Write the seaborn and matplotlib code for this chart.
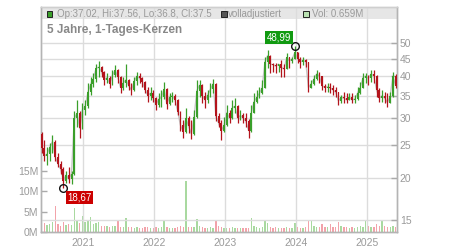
import numpy as np
import pandas as pd
import matplotlib
matplotlib.use("Agg")
import matplotlib.pyplot as plt
import seaborn as sns
from matplotlib.patches import Rectangle
from matplotlib.ticker import FixedLocator, NullLocator, NullFormatter, FuncFormatter

# ---------------- data (~2-week candles) ----------------
opens = [27.0, 24.5, 23.2, 23.5, 24.6, 25.6, 23.0, 22.0, 21.2, 19.6,
         20.4, 19.8, 20.6, 30.0, 31.0, 28.0, 31.8, 32.6, 35.8, 37.8,
         39.2, 42.2, 42.5, 41.2, 39.0, 39.6, 38.0, 40.2, 41.6, 39.8,
         37.0, 38.2, 39.0, 37.4, 36.4, 38.6, 40.0, 39.4, 38.4, 36.5,
         35.0, 35.6, 34.4, 32.9, 34.2, 34.6, 36.6, 33.0, 34.8, 35.0,
         34.0, 31.4, 28.6, 27.4, 30.0, 28.4, 27.0, 30.2, 36.2, 37.6,
         35.0, 34.0, 35.2, 36.6, 38.0, 30.4, 29.0, 27.6, 28.6, 31.2,
         30.0, 32.2, 32.6, 30.0, 30.6, 30.0, 29.4, 27.6, 31.2, 33.6,
         34.6, 35.6, 37.0, 44.0, 46.0, 43.4, 43.2, 42.8, 43.4, 42.4,
         42.0, 45.4, 44.4, 45.0, 47.0, 45.0, 44.0, 44.6, 44.0, 37.0,
         38.0, 39.2, 40.6, 40.0, 37.4, 37.0, 37.2, 36.9, 36.4, 35.8,
         33.8, 34.6, 34.4, 34.0, 34.6, 34.0, 34.2, 35.6, 37.0, 39.6,
         40.0, 39.4, 40.6, 40.0, 36.4, 34.4, 35.0, 34.4, 33.4, 35.0,
         40.0]
highs = [27.3, 25.8, 24.6, 25.3, 26.7, 25.8, 23.7, 22.5, 21.5, 21.0,
         21.5, 21.0, 31.5, 33.9, 31.5, 33.3, 33.9, 38.1, 39.7, 40.8,
         43.5, 44.2, 42.8, 41.5, 40.8, 40.0, 41.6, 43.0, 41.9, 39.9,
         39.7, 43.5, 39.2, 38.1, 39.7, 41.0, 40.8, 39.7, 38.6, 37.1,
         37.1, 36.3, 34.6, 35.6, 36.3, 38.4, 36.8, 35.6, 35.8, 35.3,
         34.2, 31.6, 29.6, 32.1, 30.4, 29.6, 31.7, 38.9, 38.9, 37.8,
         35.8, 36.3, 38.1, 39.1, 38.2, 31.0, 29.6, 30.2, 32.8, 31.7,
         33.9, 34.4, 32.8, 31.7, 31.2, 31.1, 29.8, 32.8, 35.6, 36.3,
         37.1, 38.9, 45.5, 47.8, 46.2, 43.7, 43.6, 43.5, 44.6, 43.5,
         46.8, 45.6, 45.5, 48.99, 47.2, 45.5, 45.5, 45.0, 44.1, 38.9,
         40.3, 41.6, 41.0, 40.1, 37.8, 38.1, 38.1, 37.6, 37.1, 35.9,
         35.1, 35.8, 35.6, 35.6, 35.6, 35.1, 37.1, 38.4, 40.8, 40.8,
         40.3, 41.6, 41.6, 40.2, 36.9, 36.3, 35.8, 35.6, 35.8, 41.0,
         40.5]
lows = [23.7, 22.5, 21.9, 22.5, 23.7, 22.5, 21.5, 20.6, 18.67, 19.3,
        19.3, 19.2, 20.4, 28.2, 26.3, 27.8, 30.6, 32.2, 35.2, 37.1,
        38.5, 39.7, 39.7, 37.6, 38.1, 36.9, 37.6, 39.7, 38.1, 35.6,
        36.3, 37.1, 36.3, 35.1, 36.2, 37.6, 38.1, 37.1, 35.6, 33.5,
        33.9, 33.5, 31.7, 32.4, 32.4, 34.2, 31.9, 32.8, 33.5, 32.8,
        30.6, 27.6, 26.3, 27.2, 27.1, 26.1, 26.8, 30.0, 34.6, 33.3,
        32.1, 33.3, 34.6, 35.6, 29.4, 28.2, 25.8, 27.4, 28.4, 29.0,
        29.8, 31.0, 29.0, 29.6, 29.0, 28.2, 26.3, 27.4, 31.0, 33.4,
        34.4, 35.3, 36.8, 42.4, 40.8, 41.0, 40.8, 41.0, 39.7, 39.7,
        41.9, 42.4, 43.7, 44.8, 43.7, 42.4, 43.0, 42.6, 36.0, 36.9,
        37.6, 38.9, 38.1, 36.3, 35.8, 35.8, 35.6, 35.1, 34.6, 32.8,
        33.3, 33.3, 33.3, 33.9, 33.3, 33.3, 33.9, 35.4, 36.8, 38.1,
        37.6, 38.4, 38.1, 34.6, 33.5, 33.5, 33.3, 32.4, 33.2, 34.8,
        36.8]
closes = [24.5, 23.2, 23.5, 24.6, 25.6, 23.0, 22.0, 21.2, 19.6, 20.4,
          19.8, 20.6, 30.0, 31.0, 28.0, 31.8, 32.6, 35.8, 37.8, 39.2,
          42.2, 42.5, 41.2, 39.0, 39.6, 38.0, 40.2, 41.6, 39.8, 37.0,
          38.2, 39.0, 37.4, 36.4, 38.6, 40.0, 39.4, 38.4, 36.5, 35.0,
          35.6, 34.4, 32.9, 34.2, 34.6, 36.6, 33.0, 34.8, 35.0, 34.0,
          31.4, 28.6, 27.4, 30.0, 28.4, 27.0, 30.2, 36.2, 37.6, 35.0,
          34.0, 35.2, 36.6, 38.0, 30.4, 29.0, 27.6, 28.6, 31.2, 30.0,
          32.2, 32.6, 30.0, 30.6, 30.0, 29.4, 27.6, 31.2, 33.6, 34.6,
          35.6, 37.0, 44.0, 46.0, 43.4, 43.2, 42.8, 43.4, 42.4, 42.0,
          45.4, 44.4, 45.0, 47.0, 45.0, 44.0, 44.6, 44.0, 37.0, 38.0,
          39.2, 40.6, 40.0, 37.4, 37.0, 37.2, 36.9, 36.4, 35.8, 33.8,
          34.6, 34.4, 34.0, 34.6, 34.0, 34.2, 35.6, 37.0, 39.6, 40.0,
          39.4, 40.6, 40.0, 36.4, 34.4, 35.0, 34.4, 33.4, 35.0, 40.0,
          37.5]
volumes_m = [2.8, 2.2, 1.8, 2.0, 2.4, 6.5, 2.0, 1.6, 2.4, 1.8,
             2.0, 1.7, 6.0, 2.6, 2.2, 3.9, 2.4, 3.0, 3.8, 2.0,
             2.2, 2.5, 1.6, 1.4, 1.5, 1.3, 1.4, 1.5, 3.0, 1.3,
             1.2, 3.4, 1.3, 1.2, 1.1, 1.2, 1.0, 1.1, 1.2, 1.3,
             1.1, 1.0, 1.2, 1.1, 1.2, 3.0, 1.3, 1.0, 0.9, 1.0,
             1.2, 1.4, 1.3, 12.5, 1.3, 1.2, 1.3, 3.2, 1.6, 1.2,
             1.1, 1.0, 1.2, 1.1, 3.0, 1.4, 1.3, 1.1, 1.0, 1.0,
             1.2, 1.1, 1.0, 0.9, 1.0, 1.0, 1.1, 3.4, 1.4, 1.2,
             1.1, 1.2, 2.6, 2.2, 1.3, 1.1, 1.2, 1.0, 1.1, 1.0,
             1.2, 1.1, 1.0, 2.1, 1.2, 1.0, 1.1, 1.2, 3.0, 3.0,
             1.6, 1.3, 1.2, 2.0, 1.3, 1.2, 2.0, 1.3, 1.2, 2.5,
             1.4, 1.3, 1.2, 1.1, 1.2, 1.1, 1.3, 1.4, 1.3, 3.0,
             1.4, 1.2, 1.3, 2.0, 1.5, 2.6, 1.4, 1.3, 1.2, 1.6,
             1.3]

price_ticks = [15, 20, 25, 30, 35, 40, 45, 50]
vol_ticks_m = [0, 5, 10, 15]
vol_tick_labels = ["0M", "5M", "10M", "15M"]
year_ticks = ["2021-01-01", "2022-01-01", "2023-01-01", "2024-01-01", "2025-01-01"]
year_labels = ["2021", "2022", "2023", "2024", "2025"]

title = "5 Jahre, 1-Tages-Kerzen"
legend_ohlc = "Op:37.02, Hi:37.56, Lo:36.8, Cl:37.5"
legend_adj = "volladjustiert"
legend_vol = "Vol: 0.659M"

# ---------------- styling ----------------
sns.set_style("white")
plt.rcParams["font.family"] = ["Liberation Sans", "DejaVu Sans"]

UP = "#3a9f2a"
DOWN = "#b3141c"
VUP = "#a9d9a0"
VDOWN = "#f2a3aa"
GRID = "#dcdcdc"
SPINE = "#b4b4b4"
TXT = "#9a9a9a"

df = pd.DataFrame({
    "date": pd.date_range("2020-06-01", periods=len(closes), freq="14D"),
    "open": opens, "high": highs, "low": lows, "close": closes,
    "volume": np.array(volumes_m) * 1e6,
})
up = df["close"] >= df["open"]

fig = plt.figure(figsize=(4.5, 2.5), dpi=100)
ax = fig.add_axes([41 / 450, 18 / 250, 356 / 450, 225 / 250])
axv = ax.twinx()
ax.set_zorder(2)
axv.set_zorder(1)
ax.patch.set_visible(False)

# volume (behind)
axv.bar(df["date"], df["volume"], width=7,
        color=np.where(up, VUP, VDOWN), linewidth=0, zorder=1)
axv.set_ylim(0, 55.4e6)
axv.set_yticks([v * 1e6 for v in vol_ticks_m])
axv.set_yticklabels(vol_tick_labels)
axv.grid(False)

# header band
axv.add_patch(Rectangle((0, 0.9467), 1, 0.0533, transform=axv.transAxes,
                        facecolor="#e6e6e6", edgecolor="none", zorder=0))

# price
ax.set_yscale("log")
sns.lineplot(data=df, x="date", y="close", ax=ax, color="#c4c4c4", lw=1, zorder=2)
for mask, col in ((up, UP), (~up, DOWN)):
    d = df[mask]
    ax.vlines(d["date"], d["low"], d["high"], color=col, lw=0.9, zorder=3)
    ax.bar(d["date"], (d["close"] - d["open"]).abs().clip(lower=0.15),
           bottom=np.minimum(d["open"], d["close"]), width=9,
           color=col, linewidth=0, zorder=4)

ax.set_xlabel("")
ax.set_ylabel("")
axv.set_ylabel("")
ax.set_ylim(13.83, 64.03)
ax.set_xlim(pd.Timestamp("2020-05-29"), pd.Timestamp("2025-06-02"))

ax.yaxis.set_major_locator(FixedLocator(price_ticks))
ax.yaxis.set_major_formatter(FuncFormatter(lambda v, p: f"{v:g}"))
ax.yaxis.set_minor_locator(NullLocator())
ax.yaxis.set_minor_formatter(NullFormatter())
ax.set_xticks(pd.to_datetime(year_ticks))
ax.set_xticklabels(year_labels)

ax.grid(True, color=GRID, lw=1)
ax.set_axisbelow(True)

ax.tick_params(axis="y", which="both", direction="in", length=4, width=1,
               color="#aaaaaa", labelcolor=TXT, labelsize=7.5, pad=2,
               left=False, right=True, labelleft=False, labelright=True)
axv.tick_params(axis="y", direction="in", length=4, width=1,
                color="#aaaaaa", labelcolor=TXT, labelsize=7.5, pad=2,
                left=True, right=False, labelleft=True, labelright=False)
ax.tick_params(axis="x", length=0, pad=4, labelsize=7.5, labelcolor=TXT)

for a in (ax, axv):
    for s in a.spines.values():
        s.set_color(SPINE)
        s.set_linewidth(1)
ax.spines["top"].set_color("#cfcfcf")
axv.spines["top"].set_color("#cfcfcf")

# header legend
def square(x, color):
    ax.add_patch(Rectangle((x, 0.957), 0.0157, 0.0249, transform=ax.transAxes,
                           facecolor=color, edgecolor="#222222", lw=0.7,
                           clip_on=False, zorder=10))

square(0.016, UP)
ax.text(0.044, 0.9705, legend_ohlc, transform=ax.transAxes, fontsize=7,
        color=TXT, va="center", ha="left", zorder=10)
square(0.5056, "#555555")
ax.text(0.525, 0.9705, legend_adj, transform=ax.transAxes, fontsize=7,
        color=TXT, va="center", ha="left", zorder=10)
square(0.736, "#b8e0b0")
ax.text(0.760, 0.9705, legend_vol, transform=ax.transAxes, fontsize=7,
        color=TXT, va="center", ha="left", zorder=10)

ax.text(0.017, 0.90, title, transform=ax.transAxes, fontsize=8.5,
        fontweight="bold", color="#888888", va="center", ha="left", zorder=10)

# max / min annotations
imax = df["high"].idxmax()
imin = df["low"].idxmin()
for idx, val, col, off in ((imax, df.loc[imax, "high"], "#119a11", (-16, 8.8)),
                           (imin, df.loc[imin, "low"], "#cc0000", (16.5, -9.5))):
    ax.plot(df.loc[idx, "date"], val, "o", mfc="none", mec="#111111",
            ms=5.5, mew=1, zorder=8)
    ax.annotate(f"{val:.2f}".replace(".", ","), xy=(df.loc[idx, "date"], val),
                xytext=off, textcoords="offset pixels", ha="center", va="center",
                fontsize=7, color="white", zorder=9,
                bbox=dict(boxstyle="square,pad=0.15", fc=col, ec="none"))

fig.savefig("out.png", dpi=100)
